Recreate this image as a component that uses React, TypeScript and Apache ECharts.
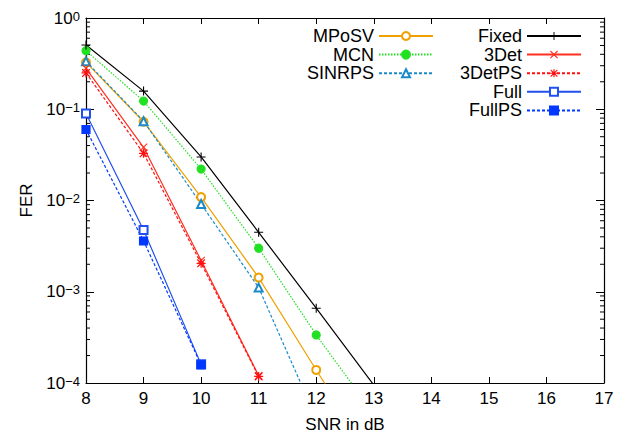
import React, { useEffect, useRef } from "react";
import * as echarts from "echarts";

const snr = [8, 9, 10, 11, 12, 13];
const fixedFER = [0.506, 0.158, 0.03, 0.00448, 0.00066, 0.000095];
const mcnFER = [0.438, 0.123, 0.0221, 0.003, 0.000336, 0.000046];
const mposvFER = [0.327, 0.073, 0.0109, 0.00143, 0.000139, 0.000014];
const sinrpsFER = [0.335, 0.074, 0.00916, 0.00111, 0.000041];
const det3FER = [0.281, 0.0383, 0.0022, 0.00012];
const det3psFER = [0.25, 0.0329, 0.00205, 0.000118];
const fullFER = [0.09, 0.00475, 0.00016];
const fullpsFER = [0.06, 0.0036, 0.000158];

const xTicks = [8, 9, 10, 11, 12, 13, 14, 15, 16, 17];
const yExponents = [0, -1, -2, -3, -4];
const minorMultipliers = [2, 3, 4, 5, 6, 7, 8, 9];
const decades = [1e-4, 1e-3, 1e-2, 1e-1];

const FONT = "Liberation Sans";

const plusPath = "path://M4.4,0H5.6V4.4H10V5.6H5.6V10H4.4V5.6H0V4.4H4.4Z";
const xPath =
  "path://M1,0L5,4L9,0L10,1L6,5L10,9L9,10L5,6L1,10L0,9L4,5L0,1Z";
const starPath =
  "path://M4.3,0H5.7V4.3H10V5.7H5.7V10H4.3V5.7H0V4.3H4.3Z M1.3,0.3L5,4L8.7,0.3L9.7,1.3L6,5L9.7,8.7L8.7,9.7L5,6L1.3,9.7L0.3,8.7L4,5L0.3,1.3Z";

function pairs(ys: number[]) {
  return ys.map((y, i) => [snr[i], y]);
}

export default function App() {
  const ref = useRef<HTMLDivElement>(null);
  useEffect(() => {
    const chart = echarts.init(ref.current!, null, { renderer: "svg" });

    const minorVals: number[] = [];
    decades.forEach((d) => minorMultipliers.forEach((m) => minorVals.push(m * d)));

    const mk = (
      name: string,
      ys: number[],
      color: string,
      type: any,
      symbol: string,
      size: number
    ) => ({
      name,
      type: "line",
      data: pairs(ys),
      symbol,
      symbolSize: size,
      showSymbol: true,
      clip: true,
      lineStyle: { color, width: 1.2, type },
      itemStyle: {
        color,
        borderColor: color,
        borderWidth: symbol.startsWith("path://") ? 0 : 1.2,
      },
      emphasis: { disabled: true },
      z: 3,
    });

    const legendText = { fontFamily: FONT, fontSize: 18, color: "#000", lineHeight: 18 };
    const legendCommon = {
      orient: "vertical",
      align: "right",
      top: 27,
      itemWidth: 54,
      itemHeight: 10,
      itemGap: 0.6,
      padding: 0,
      textStyle: legendText,
      selectedMode: false,
    };

    chart.setOption({
      animation: false,
      backgroundColor: "#fff",
      grid: { left: 86, right: 18, top: 18, bottom: 58, containLabel: false },
      legend: [
        { ...legendCommon, data: ["MPoSV", "MCN", "SINRPS"], right: 188 },
        { ...legendCommon, data: ["Fixed", "3Det", "3DetPS", "Full", "FullPS"], right: 40 },
      ],
      xAxis: [
        {
          type: "value",
          min: 8,
          max: 17,
          interval: 1,
          position: "bottom",
          name: "SNR in dB",
          nameLocation: "middle",
          nameGap: 33,
          nameTextStyle: { fontFamily: FONT, fontSize: 17, color: "#000" },
          axisLine: { show: true, onZero: false, lineStyle: { color: "#000", width: 1.2 } },
          axisTick: { show: true, inside: true, length: 6, lineStyle: { color: "#000" } },
          axisLabel: {
            fontFamily: FONT,
            fontSize: 17,
            color: "#000",
            margin: 7,
            formatter: (v: number) => (xTicks.includes(v) ? String(v) : ""),
          },
          splitLine: { show: false },
        },
        {
          type: "value",
          min: 8,
          max: 17,
          interval: 1,
          position: "top",
          axisLine: { show: true, onZero: false, lineStyle: { color: "#000", width: 1.2 } },
          axisTick: { show: true, inside: true, length: 6, lineStyle: { color: "#000" } },
          axisLabel: { show: false },
          splitLine: { show: false },
        },
      ],
      yAxis: [
        {
          type: "log",
          logBase: 10,
          min: 1e-4,
          max: 1,
          position: "left",
          name: "FER",
          nameLocation: "middle",
          nameRotate: 90,
          nameGap: 50,
          nameTextStyle: { fontFamily: FONT, fontSize: 17, color: "#000" },
          axisLine: { show: true, onZero: false, lineStyle: { color: "#000", width: 1.2 } },
          axisTick: { show: true, inside: true, length: 8, lineStyle: { color: "#000" } },
          axisLabel: {
            margin: 6,
            formatter: (v: number) => {
              const e = Math.round(Math.log10(v));
              return yExponents.includes(e) ? `{b|10}{s|${e === 0 ? "0" : "\u2212" + -e}}` : "";
            },
            rich: {
              b: {
                fontFamily: FONT,
                fontSize: 17,
                color: "#000",
                lineHeight: 17,
                padding: [6, 0, 0, 0],
                verticalAlign: "bottom",
              },
              s: {
                fontFamily: FONT,
                fontSize: 13,
                color: "#000",
                lineHeight: 13,
                verticalAlign: "top",
              },
            },
          },
          splitLine: { show: false },
        },
        {
          type: "log",
          logBase: 10,
          min: 1e-4,
          max: 1,
          position: "right",
          axisLine: { show: true, onZero: false, lineStyle: { color: "#000", width: 1.2 } },
          axisTick: { show: true, inside: true, length: 8, lineStyle: { color: "#000" } },
          axisLabel: { show: false },
          splitLine: { show: false },
        },
      ],
      series: [
        mk("MPoSV", mposvFER, "#f0a000", "solid", "emptyCircle", 8),
        mk("MCN", mcnFER, "#22e022", [1.5, 1.5], "circle", 8),
        mk("SINRPS", sinrpsFER, "#1a8ac8", [3, 2], "emptyTriangle", 8),
        mk("Fixed", fixedFER, "#000000", "solid", plusPath, 9),
        mk("3Det", det3FER, "#ff3020", "solid", xPath, 8),
        mk("3DetPS", det3psFER, "#ff1010", [3, 2], starPath, 9),
        mk("Full", fullFER, "#2050f0", "solid", "emptyRect", 8),
        mk("FullPS", fullpsFER, "#0038ff", [3, 2], "rect", 8),
        {
          name: "minorTicks",
          type: "custom",
          xAxisIndex: 0,
          yAxisIndex: 0,
          clip: false,
          silent: true,
          data: minorVals.map((v) => [8, v]),
          renderItem: (params: any, api: any) => {
            const v = api.value(1);
            const l = api.coord([8, v]);
            const r = api.coord([17, v]);
            const st = { stroke: "#000", lineWidth: 1 };
            return {
              type: "group",
              children: [
                { type: "line", shape: { x1: l[0], y1: l[1], x2: l[0] + 4, y2: l[1] }, style: st },
                { type: "line", shape: { x1: r[0], y1: r[1], x2: r[0] - 4, y2: r[1] }, style: st },
              ],
            };
          },
          z: 2,
        },
      ],
    });
    return () => chart.dispose();
  }, []);
  return (
    <div
      ref={ref}
      style={{ position: "fixed", left: 0, top: 0, width: 622, height: 441, background: "#fff" }}
    />
  );
}
